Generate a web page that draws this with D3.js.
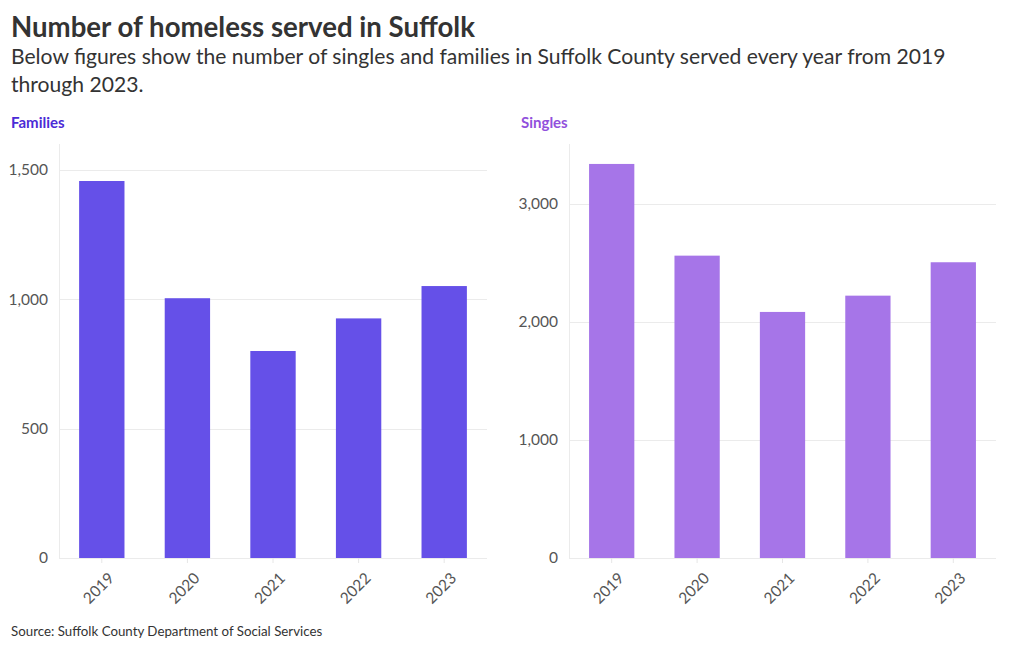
<!DOCTYPE html>
<html><head><meta charset="utf-8">
<script src="https://cdn.jsdelivr.net/npm/d3@7"></script>
<style>
body{margin:0;background:#fff;font-family:"Lato","Noto Sans",sans-serif;}
svg{display:block}
</style></head>
<body><svg id="c" width="1020" height="650"></svg>
<script>
const years = ["2019","2020","2021","2022","2023"];
const families = [1457, 1004, 800, 926, 1051];
const singles = [3339, 2562, 2085, 2223, 2506];
const familiesTicks = [0, 500, 1000, 1500];
const singlesTicks = [0, 1000, 2000, 3000];

const svg = d3.select("#c");
const font = "Lato, 'Noto Sans', sans-serif";

svg.append("text").attr("x",11).attr("y",37).attr("font-family",font).attr("font-weight",700)
  .attr("font-size",27.6).attr("fill","#333").text("Number of homeless served in Suffolk");
svg.append("text").attr("x",11).attr("y",64).attr("font-family",font)
  .attr("font-size",21.1).attr("fill","#333")
  .text("Below figures show the number of singles and families in Suffolk County served every year from 2019");
svg.append("text").attr("x",11).attr("y",92).attr("font-family",font)
  .attr("font-size",21.1).attr("fill","#333").text("through 2023.");
svg.append("text").attr("x",11).attr("y",636).attr("font-family",font)
  .attr("font-size",13.3).attr("fill","#333").text("Source: Suffolk County Department of Social Services");

function panel(label, labelColor, values, ticks, maxV, color, x0, x1){
  const top = 144, bottom = 558;
  svg.append("text").attr("x",x0-48).attr("y",128).attr("font-family",font).attr("font-weight",700)
    .attr("font-size",15).attr("fill",labelColor).text(label);
  const x = d3.scaleBand().domain(years).range([x0,x1]).paddingInner(0.47).paddingOuter(0.235);
  const y = d3.scaleLinear().domain([0,maxV]).range([bottom,top]);
  const g = svg.append("g");
  g.selectAll("line.grid").data(ticks).join("line").attr("class","grid")
    .attr("x1",x0).attr("x2",x1).attr("y1",d=>Math.round(y(d))+0.5).attr("y2",d=>Math.round(y(d))+0.5)
    .attr("stroke","#ebebeb").attr("stroke-width",1);
  g.append("line").attr("x1",x0+0.5).attr("x2",x0+0.5).attr("y1",top).attr("y2",bottom)
    .attr("stroke","#ebebeb");
  const ya = g.append("g").attr("transform",`translate(${x0},0)`)
    .call(d3.axisLeft(y).tickValues(ticks).tickFormat(d3.format(",")).tickSize(0).tickPadding(11));
  ya.select(".domain").remove();
  ya.selectAll("text").attr("font-family",font).attr("font-size",15.5).attr("fill","#555");
  g.selectAll("rect").data(values).join("rect")
    .attr("x",(d,i)=>x(years[i])).attr("width",x.bandwidth())
    .attr("y",d=>y(d)).attr("height",d=>bottom-y(d))
    .attr("fill",color);
  const xa = g.append("g").attr("transform",`translate(0,${bottom})`)
    .call(d3.axisBottom(x).tickSize(5).tickPadding(4));
  xa.select(".domain").remove();
  xa.selectAll(".tick line").attr("stroke","#e6e6e6");
  xa.selectAll("text").attr("font-family",font).attr("font-size",15.5).attr("fill","#555")
    .attr("text-anchor","end").attr("dy","0.35em")
    .attr("transform","translate(3,11) rotate(-45)");
}

panel("Families","#4b2bd6",families,familiesTicks,1600,"#6550e8",59,487);
panel("Singles","#9150dc",singles,singlesTicks,3508,"#a675e8",569,996);
</script></body></html>
